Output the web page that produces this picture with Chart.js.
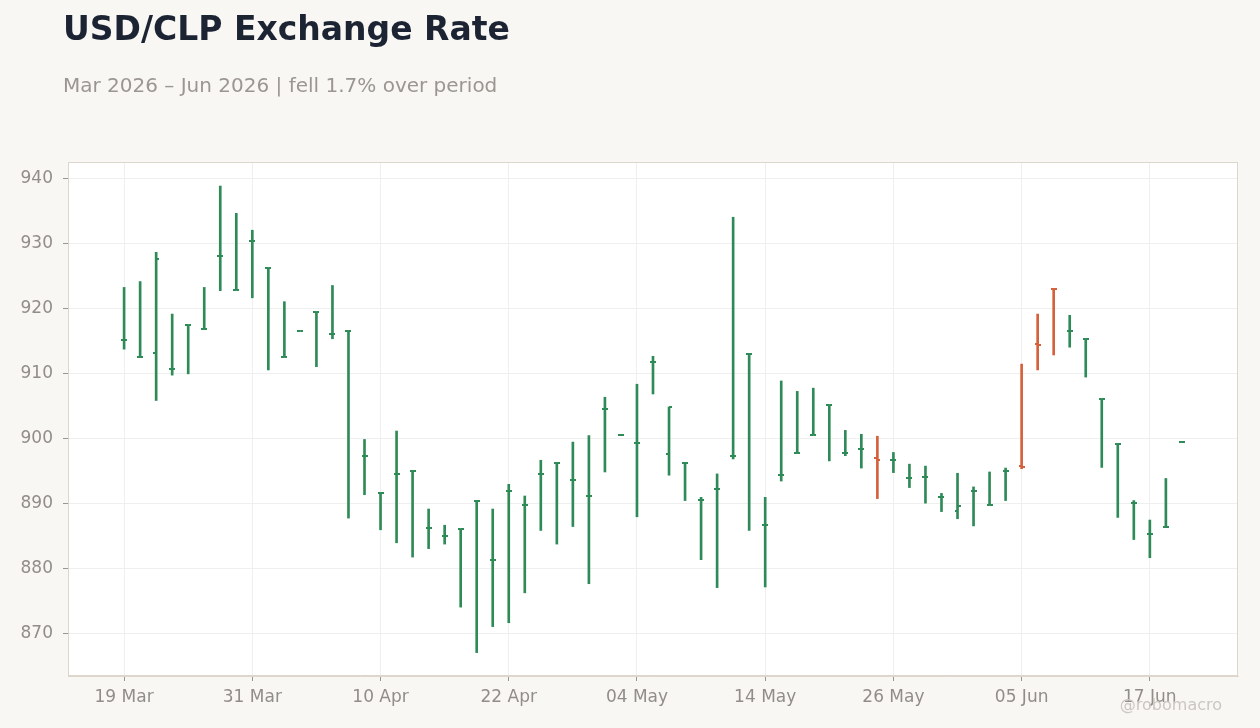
<!DOCTYPE html>
<html>
<head>
<meta charset="utf-8">
<title>USD/CLP Exchange Rate</title>
<script src="https://cdn.jsdelivr.net/npm/chart.js@4/dist/chart.umd.min.js"></script>
<style>
body{margin:0;background:#f8f7f4;font-family:"DejaVu Sans",sans-serif}
#wrap{position:relative;width:1260px;height:728px;overflow:hidden}
#judul{position:absolute;left:63px;top:12px;font-size:33px;line-height:1;font-weight:bold;color:#1c2433;white-space:nowrap}
#subjudul{position:absolute;left:63px;top:75px;font-size:20px;line-height:1;color:#9b9691;white-space:nowrap}
#tanda{position:absolute;right:38px;top:697px;font-size:16px;line-height:1;color:#cbc7c2;white-space:nowrap;z-index:2}
#kotak{position:absolute;left:0;top:0;width:1260px;height:728px}
</style>
</head>
<body>
<div id="wrap">
<div id="kotak"><canvas id="grafik"></canvas></div>
<div id="judul">USD/CLP Exchange Rate</div>
<div id="subjudul">Mar 2026 – Jun 2026 | fell 1.7% over period</div>
<div id="tanda">@robomacro</div>
</div>

<script>
// trading days, 19 Mar - 19 Jun 2026
let tanggal=[
"19 Mar","20 Mar","23 Mar","24 Mar","25 Mar","26 Mar","27 Mar","30 Mar","31 Mar",
"01 Apr","02 Apr","03 Apr","06 Apr","07 Apr","08 Apr","09 Apr","10 Apr","13 Apr","14 Apr","15 Apr","16 Apr","17 Apr",
"20 Apr","21 Apr","22 Apr","23 Apr","24 Apr","27 Apr","28 Apr","29 Apr","30 Apr",
"01 May","04 May","05 May","06 May","07 May","08 May","11 May","12 May","13 May","14 May","15 May",
"18 May","19 May","20 May","21 May","22 May","25 May","26 May","27 May","28 May","29 May",
"01 Jun","02 Jun","03 Jun","04 Jun","05 Jun","08 Jun","09 Jun","10 Jun","11 Jun","12 Jun",
"15 Jun","16 Jun","17 Jun","18 Jun","19 Jun"
]

let hargaBuka=[
915.1,912.5,913.1,910.7,917.4,916.8,928.0,922.8,930.4,926.2,
912.5,916.5,919.4,916.0,916.5,897.3,891.6,894.5,895.0,886.2,
885.0,886.0,890.4,881.2,891.9,889.7,894.5,896.2,893.6,891.1,
904.5,900.5,899.2,911.7,897.6,896.2,890.5,892.2,897.2,913.0,
886.7,894.4,897.7,900.5,905.1,897.7,898.4,897.0,896.7,893.9,
894.0,891.0,888.8,891.9,889.7,895.0,895.7,914.5,923.0,916.5,
915.3,906.0,899.1,890.0,885.2,886.3,899.4
]

let hargaTinggi=[
923.2,924.1,928.6,919.1,917.4,923.2,938.8,934.6,932.0,926.2,
921.0,916.5,919.4,923.5,916.5,899.8,891.6,901.1,895.0,889.1,
886.6,886.0,890.4,889.1,892.9,891.1,896.6,896.2,899.4,900.4,
906.3,900.5,908.3,912.6,904.8,896.2,890.9,894.5,934.0,913.0,
890.9,908.8,907.2,907.7,905.1,901.2,900.6,900.3,897.8,896.0,
895.7,891.5,894.6,892.5,894.8,895.4,911.4,919.1,923.0,918.9,
915.3,906.0,899.1,890.4,887.4,893.8,899.4
]

let hargaRendah=[
913.7,912.5,905.8,909.7,909.9,916.8,922.7,922.8,921.6,910.5,
912.5,916.5,911.0,915.3,887.7,891.3,885.9,883.9,881.7,883.0,
883.7,874.0,867.0,871.0,871.6,876.2,885.8,883.7,886.4,877.6,
894.8,900.5,887.9,906.8,894.3,890.4,881.3,877.0,896.8,885.8,
877.1,893.4,897.7,900.5,896.5,897.3,895.4,890.7,894.7,892.4,
890.0,888.7,887.6,886.5,889.7,890.4,895.3,910.5,912.8,914.0,
909.4,895.5,887.8,884.4,881.6,886.3,899.4
]

let hargaTutup=[
915.1,912.5,927.5,910.7,917.4,916.8,928.0,922.8,930.4,926.2,
912.5,916.5,919.4,916.0,916.5,897.3,891.6,894.5,895.0,886.2,
885.0,886.0,890.4,881.2,891.9,889.7,894.5,896.2,893.6,891.1,
904.5,900.5,899.2,911.7,904.8,896.2,890.5,892.2,897.2,913.0,
886.7,894.4,897.7,900.5,905.1,897.7,898.4,896.6,896.7,893.9,
894.0,891.0,889.6,891.9,889.7,895.0,895.5,914.3,922.9,916.5,
915.3,906.0,899.1,890.0,885.2,886.3,899.4
]

let tickX=[0,8,16,24,32,40,48,56,64]
let tickY=[870,880,890,900,910,920,930,940]

let hijau="#2e8b57"
let merah="#d5603c"
let warnaTeks="#928d88"



function buatTick(warna,sisi){

let c=document.createElement("canvas")
c.width=6
c.height=2
let g=c.getContext("2d")
g.fillStyle=warna
if(sisi=="kiri"){
g.fillRect(0,0,3,2)
}else{
g.fillRect(3,0,3,2)
}
return c

}

let tickKiriHijau=buatTick(hijau,"kiri")
let tickKananHijau=buatTick(hijau,"kanan")
let tickKiriMerah=buatTick(merah,"kiri")
let tickKananMerah=buatTick(merah,"kanan")

function turun(i){
return hargaTutup[i]<hargaBuka[i]
}

let dataRange=hargaTinggi.map((h,i)=>({x:i,y:[hargaRendah[i],h]}))
let dataBuka=hargaBuka.map((v,i)=>({x:i,y:v}))
let dataTutup=hargaTutup.map((v,i)=>({x:i,y:v}))



let latarPlot={
id:"latarPlot",
beforeDraw(chart){
let a=chart.chartArea
let ctx=chart.ctx
ctx.save()
ctx.fillStyle="#ffffff"
ctx.fillRect(a.left,a.top,a.right-a.left,a.bottom-a.top)
ctx.restore()
},
afterDraw(chart){
let a=chart.chartArea
let ctx=chart.ctx
ctx.save()
ctx.strokeStyle="#ddd6cc"
ctx.lineWidth=1
ctx.strokeRect(a.left+0.5,a.top+0.5,a.right-a.left-1,a.bottom-a.top-1)
ctx.restore()
}
}



new Chart(document.getElementById("grafik"),{
type:"bar",
data:{
datasets:[
{
type:"bar",
data:dataRange,
barThickness:2,
borderWidth:0,
backgroundColor:(c)=>turun(c.dataIndex)?merah:hijau,
order:2
},
{
type:"scatter",
data:dataBuka,
showLine:false,
pointRadius:3,
pointStyle:(c)=>turun(c.dataIndex)?tickKiriMerah:tickKiriHijau,
order:1
},
{
type:"scatter",
data:dataTutup,
showLine:false,
pointRadius:3,
pointStyle:(c)=>turun(c.dataIndex)?tickKananMerah:tickKananHijau,
order:1
}
]
},
options:{
responsive:true,
maintainAspectRatio:false,
animation:false,
layout:{padding:{top:162,right:22,bottom:0,left:0}},
plugins:{
legend:{display:false},
tooltip:{enabled:false}
},
scales:{
x:{
type:"linear",
min:-3.5,
max:69.5,
offset:false,
afterBuildTicks:(s)=>{s.ticks=tickX.map(v=>({value:v}))},
afterFit:(s)=>{s.height=52},
grid:{color:"#efefef",offset:false,tickLength:5,tickColor:"#9a958f"},
border:{color:"#ddd6cc"},
ticks:{
color:warnaTeks,
font:{family:"DejaVu Sans",size:17},
padding:6,
maxRotation:0,
autoSkip:false,
callback:(v)=>tanggal[v]
}
},
y:{
type:"linear",
min:863.4,
max:942.5,
afterBuildTicks:(s)=>{s.ticks=tickY.map(v=>({value:v}))},
afterFit:(s)=>{s.width=68},
grid:{color:"#efefef",tickLength:5,tickColor:"#9a958f"},
border:{color:"#ddd6cc"},
ticks:{
color:warnaTeks,
font:{family:"DejaVu Sans",size:17},
padding:10,
callback:(v)=>String(v)
}
}
}
},
plugins:[latarPlot]
})
</script>
</body>
</html>
